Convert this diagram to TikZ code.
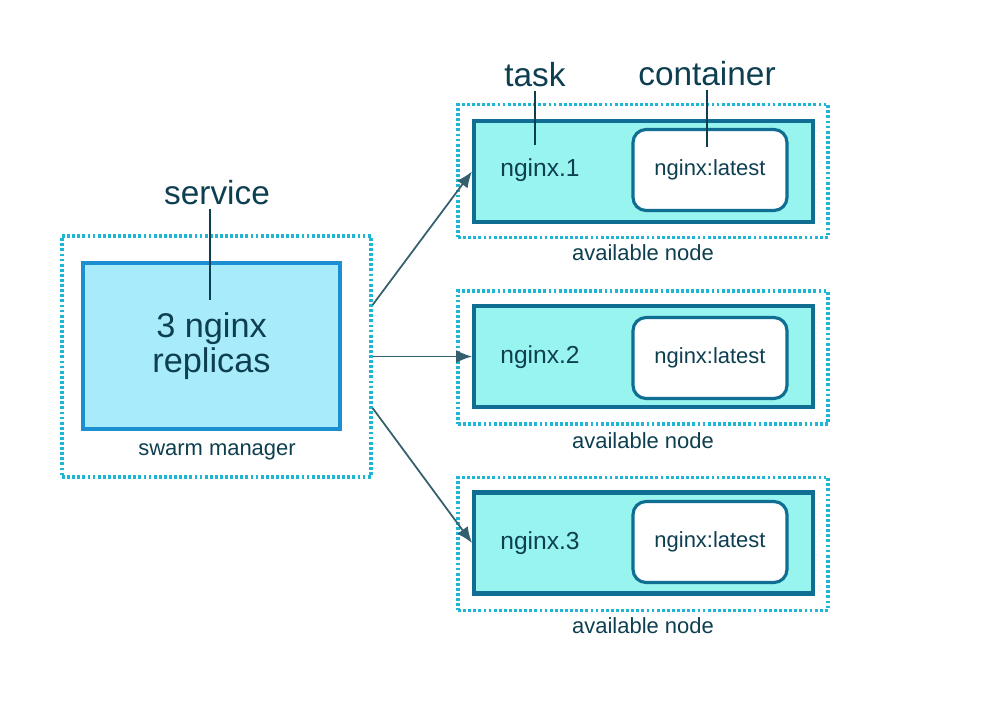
\documentclass[tikz,border=0pt]{standalone}
\usepackage{fontspec}
\setmainfont{Liberation Sans}
\usepackage{tikz}
\usetikzlibrary{arrows.meta}
\definecolor{ink}{HTML}{0E3F50}
\definecolor{dotcyan}{HTML}{1FB6D6}
\definecolor{mgrfill}{HTML}{A8ECFB}
\definecolor{mgrline}{HTML}{1B8FD2}
\definecolor{taskfill}{HTML}{98F4EE}
\definecolor{taskline}{HTML}{0F6E92}
\definecolor{arrowline}{HTML}{33606C}

\begin{document}
\begin{tikzpicture}[x=0.02cm, y=-0.02cm,
        hostbox/.style={rectangle, draw=dotcyan, line width=1.8pt, dash pattern=on 1.6pt off 1.3pt, minimum width=7.4cm, minimum height=2.66cm},
        svcbox/.style={rectangle, draw=mgrline, fill=mgrfill, line width=2pt, minimum width=5.14cm, minimum height=3.32cm, text=ink, align=center, font=\fontsize{19.5}{20}\selectfont},
        taskbox/.style={rectangle, draw=taskline, fill=taskfill, line width=2.3pt, minimum width=6.78cm, minimum height=2.02cm},
        ctrbox/.style={rectangle, rounded corners=0.26cm, draw=taskline, fill=white, line width=1.8pt, minimum width=3.08cm, minimum height=1.62cm, text=ink, font=\fontsize{12.5}{14}\selectfont},
        tasktext/.style={text=ink, font=\fontsize{14}{16}\selectfont},
        caption/.style={text=ink, font=\fontsize{12.5}{14}\selectfont},
        calloutlbl/.style={text=ink, anchor=base, inner sep=2pt, font=\fontsize{19}{20}\selectfont},
        pinline/.style={draw=ink, line width=1pt},
        sendarrow/.style={draw=arrowline, line width=1pt, -{Latex[length=3.2mm, width=2.6mm]}}]
        \useasboundingbox (0, 0) rectangle (988, 706);

        % swarm manager
        \draw (216.5, 356.5) node(mgr)[hostbox, minimum width=6.18cm, minimum height=4.82cm]{};
        \draw (211.5, 346) node(svc)[svcbox]{3 nginx\\replicas};
        \draw (217, 452) node(mgrlbl)[caption]{swarm manager};

        % available nodes
        \draw (643, 171) node(h1)[hostbox]{};
        \draw (643.5, 171.5) node(t1)[taskbox]{};
        \draw (540, 170) node(n1)[tasktext]{nginx.1};
        \draw (710, 170) node(c1)[ctrbox]{nginx:latest};
        \draw (643, 253) node(a1)[caption]{available node};

        \draw (643, 357.5) node(h2)[hostbox]{};
        \draw (643.5, 356.5) node(t2)[taskbox]{};
        \draw (540, 357) node(n2)[tasktext]{nginx.2};
        \draw (710, 358) node(c2)[ctrbox]{nginx:latest};
        \draw (643, 441) node(a2)[caption]{available node};

        \draw (643, 544) node(h3)[hostbox]{};
        \draw (643.5, 543) node(t3)[taskbox]{};
        \draw (540, 543) node(n3)[tasktext]{nginx.3};
        \draw (710, 542) node(c3)[ctrbox]{nginx:latest};
        \draw (643, 626) node(a3)[caption]{available node};

        % scheduling
        \draw[sendarrow] ([yshift=1.03cm]mgr.east) -- (t1.west);
        \draw[sendarrow] (mgr.east) -- (t2.west);
        \draw[sendarrow] ([yshift=-1.03cm]mgr.east) -- (t3.west);

        % callouts
        \draw (217, 205) node(svclbl)[calloutlbl]{service};
        \coordinate (svcpin) at (210, 300);
        \draw[pinline] (svclbl.south -| svcpin) -- (svcpin);
        \draw (535, 87) node(tasklbl)[calloutlbl]{task};
        \coordinate (taskpin) at (535, 145);
        \draw[pinline] (tasklbl.south -| taskpin) -- (taskpin);
        \draw (707, 86) node(ctrlbl)[calloutlbl]{container};
        \coordinate (ctrpin) at (707, 147);
        \draw[pinline] (ctrlbl.south -| ctrpin) -- (ctrpin);
    \end{tikzpicture}
\end{document}
